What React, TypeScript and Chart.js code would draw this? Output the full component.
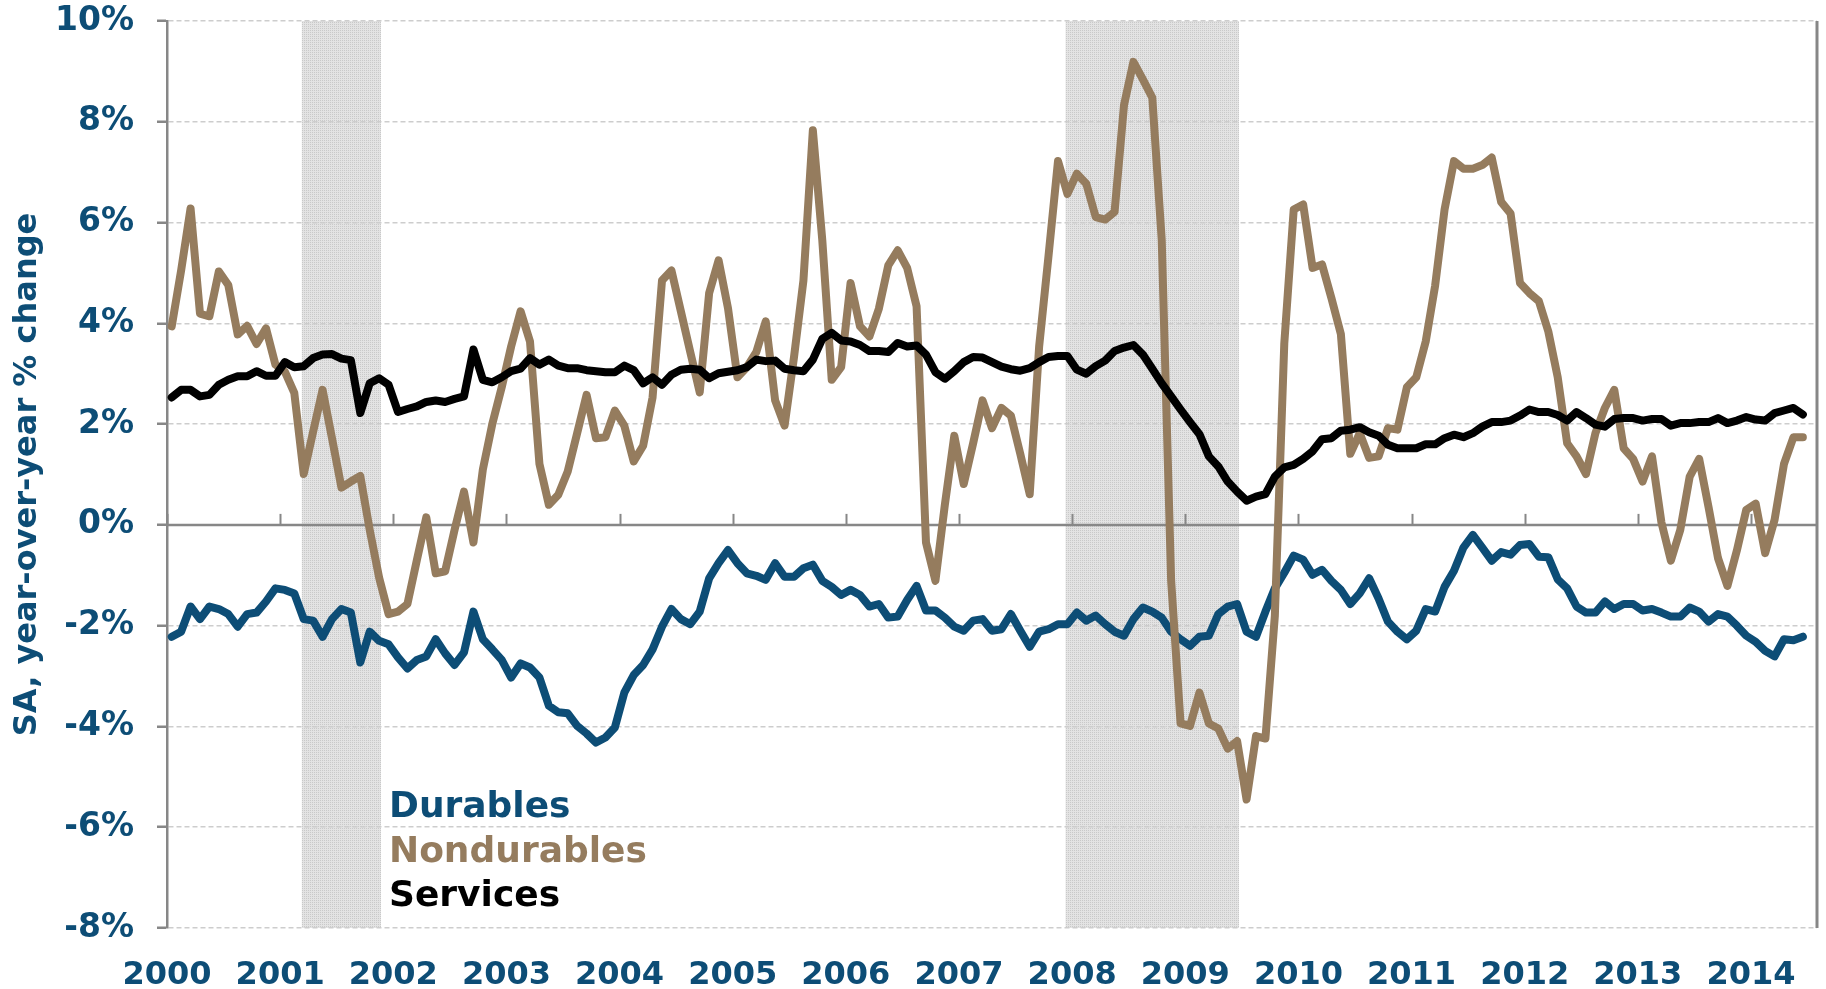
import React, { useEffect, useRef } from 'react';
import { Chart, registerables } from 'chart.js';

Chart.register(...registerables);

// ---------- DATA ----------
// Monthly observations, Jan 2000 (index 0) .. Jun 2014 (index 173)
const yearLabels = ['2000', '2001', '2002', '2003', '2004', '2005', '2006', '2007', '2008', '2009', '2010', '2011', '2012', '2013', '2014'];
const yTickValues = [-8, -6, -4, -2, 0, 2, 4, 6, 8, 10];

const durables = [
  -2.22, -2.12, -1.62, -1.87, -1.62, -1.67, -1.77, -2.02, -1.77, -1.74, -1.52, -1.26,
  -1.29, -1.36, -1.87, -1.90, -2.22, -1.87, -1.67, -1.74, -2.73, -2.12, -2.30, -2.37,
  -2.63, -2.85, -2.68, -2.61, -2.27, -2.55, -2.78, -2.53, -1.72, -2.27, -2.47, -2.68,
  -3.03, -2.75, -2.83, -3.03, -3.59, -3.72, -3.74, -3.99, -4.14, -4.32, -4.22, -4.02,
  -3.33, -2.98, -2.78, -2.47, -2.02, -1.67, -1.87, -1.97, -1.72, -1.06, -0.76, -0.50,
  -0.76, -0.96, -1.01, -1.09, -0.76, -1.03, -1.03, -0.86, -0.79, -1.11, -1.23, -1.39,
  -1.29, -1.39, -1.62, -1.57, -1.84, -1.82, -1.49, -1.21, -1.70, -1.70, -1.84, -2.02,
  -2.10, -1.90, -1.87, -2.10, -2.07, -1.77, -2.10, -2.42, -2.12, -2.07, -1.97, -1.97,
  -1.74, -1.90, -1.80, -1.97, -2.12, -2.20, -1.87, -1.64, -1.72, -1.84, -2.12, -2.27,
  -2.40, -2.22, -2.20, -1.77, -1.62, -1.57, -2.12, -2.22, -1.72, -1.26, -0.95, -0.61,
  -0.69, -0.99, -0.89, -1.11, -1.29, -1.57, -1.36, -1.06, -1.46, -1.92, -2.12, -2.27,
  -2.10, -1.67, -1.72, -1.23, -0.91, -0.45, -0.20, -0.45, -0.71, -0.54, -0.59, -0.40,
  -0.38, -0.63, -0.64, -1.08, -1.26, -1.62, -1.74, -1.74, -1.52, -1.67, -1.57, -1.57,
  -1.70, -1.67, -1.74, -1.82, -1.82, -1.64, -1.72, -1.92, -1.77, -1.82, -2.00, -2.20,
  -2.32, -2.50, -2.61, -2.27, -2.29, -2.22,
];

const nondurables = [
  3.94, 5.05, 6.28, 4.19, 4.14, 5.03, 4.76, 3.78, 3.95, 3.59, 3.90, 3.18,
  3.04, 2.62, 1.01, 1.85, 2.68, 1.72, 0.74, 0.86, 0.97, -0.10, -1.05, -1.77,
  -1.72, -1.57, -0.70, 0.15, -0.96, -0.92, -0.10, 0.66, -0.35, 1.10, 2.00, 2.73,
  3.54, 4.24, 3.64, 1.21, 0.40, 0.60, 1.06, 1.82, 2.58, 1.72, 1.74, 2.27,
  1.97, 1.26, 1.57, 2.53, 4.85, 5.05, 4.24, 3.43, 2.63, 4.60, 5.25, 4.30,
  2.93, 3.13, 3.43, 4.04, 2.47, 1.97, 3.33, 4.85, 7.83, 5.65, 2.88, 3.13,
  4.80, 3.94, 3.74, 4.29, 5.15, 5.45, 5.10, 4.34, -0.35, -1.11, 0.40, 1.77,
  0.81, 1.62, 2.47, 1.92, 2.32, 2.17, 1.41, 0.61, 3.54, 5.35, 7.22, 6.57,
  6.97, 6.77, 6.11, 6.06, 6.21, 8.33, 9.19, 8.84, 8.48, 5.66, -1.11, -3.94,
  -3.99, -3.33, -3.94, -4.04, -4.44, -4.29, -5.45, -4.19, -4.24, -1.80, 3.60, 6.26,
  6.36, 5.10, 5.17, 4.50, 3.79, 1.41, 1.82, 1.33, 1.36, 1.92, 1.89, 2.73,
  2.93, 3.64, 4.75, 6.26, 7.22, 7.07, 7.07, 7.14, 7.29, 6.41, 6.18, 4.80,
  4.60, 4.44, 3.84, 2.93, 1.62, 1.36, 1.01, 1.82, 2.32, 2.68, 1.52, 1.31,
  0.86, 1.36, 0.05, -0.71, -0.10, 0.96, 1.31, 0.35, -0.66, -1.21, -0.51, 0.30,
  0.42, -0.56, 0.10, 1.21, 1.74, 1.74,
];

const services = [
  2.53, 2.68, 2.68, 2.55, 2.58, 2.78, 2.88, 2.95, 2.95, 3.05, 2.96, 2.96,
  3.23, 3.13, 3.15, 3.31, 3.38, 3.39, 3.30, 3.27, 2.22, 2.81, 2.91, 2.78,
  2.24, 2.30, 2.35, 2.44, 2.47, 2.44, 2.50, 2.55, 3.48, 2.88, 2.83, 2.93,
  3.05, 3.10, 3.31, 3.18, 3.28, 3.16, 3.11, 3.11, 3.07, 3.05, 3.03, 3.03,
  3.16, 3.07, 2.81, 2.93, 2.78, 2.98, 3.08, 3.10, 3.08, 2.91, 3.01, 3.04,
  3.07, 3.13, 3.28, 3.25, 3.26, 3.10, 3.07, 3.05, 3.28, 3.69, 3.81, 3.66,
  3.64, 3.57, 3.45, 3.45, 3.43, 3.61, 3.54, 3.56, 3.38, 3.03, 2.90, 3.05,
  3.23, 3.33, 3.32, 3.23, 3.14, 3.09, 3.06, 3.11, 3.23, 3.33, 3.35, 3.35,
  3.08, 3.00, 3.15, 3.26, 3.45, 3.52, 3.57, 3.38, 3.10, 2.81, 2.55, 2.29,
  2.04, 1.80, 1.36, 1.16, 0.86, 0.66, 0.48, 0.56, 0.61, 0.96, 1.14, 1.19,
  1.31, 1.46, 1.70, 1.72, 1.87, 1.89, 1.94, 1.84, 1.77, 1.59, 1.52, 1.52,
  1.52, 1.60, 1.60, 1.72, 1.79, 1.74, 1.82, 1.95, 2.04, 2.04, 2.07, 2.17,
  2.29, 2.24, 2.24, 2.18, 2.07, 2.24, 2.12, 1.99, 1.95, 2.10, 2.12, 2.12,
  2.07, 2.10, 2.10, 1.97, 2.02, 2.02, 2.04, 2.04, 2.12, 2.02, 2.07, 2.14,
  2.09, 2.07, 2.22, 2.27, 2.32, 2.19,
];

// Recession periods, in months since Jan 2000
const recessionStarts = [14.3, 95.3];
const recessionEnds = [22.7, 113.7];

const seriesNames = ['Durables', 'Nondurables', 'Services'];
const seriesColors = ['#0D4D76', '#957C5E', '#000000'];

const AXIS_MONTHS = 175;
const LABEL_BLUE = '#0D4D76';
const AXIS_GRAY = '#878787';
const FONT = '"DejaVu Sans", Verdana, sans-serif';

function toPoints(values: number[]) {
  return values.map((v, i) => ({ x: i + 0.5, y: v }));
}

function makePattern(ctx: CanvasRenderingContext2D) {
  const c = document.createElement('canvas');
  c.width = 4;
  c.height = 4;
  const p = c.getContext('2d')!;
  p.fillStyle = '#e3e3e3';
  p.fillRect(0, 0, 4, 4);
  p.fillStyle = '#c9c9c9';
  p.fillRect(0, 0, 1, 1);
  p.fillRect(2, 2, 1, 1);
  p.fillRect(2, 0, 1, 1);
  p.fillRect(0, 2, 1, 1);
  return ctx.createPattern(c, 'repeat');
}

const decorPlugin = {
  id: 'decor',
  beforeDraw(chart: any) {
    const { ctx, chartArea: a, scales } = chart;
    const x = scales.x;
    ctx.save();
    ctx.fillStyle = makePattern(ctx) || '#d9d9d9';
    recessionStarts.forEach((s, k) => {
      const x1 = x.getPixelForValue(s);
      const x2 = x.getPixelForValue(recessionEnds[k]);
      ctx.fillRect(x1, a.top, x2 - x1, a.bottom - a.top);
    });
    ctx.restore();
  },
  beforeDatasetsDraw(chart: any) {
    const { ctx, chartArea: a, scales } = chart;
    const x = scales.x;
    const y = scales.y;
    const y0 = y.getPixelForValue(0);
    ctx.save();
    ctx.strokeStyle = AXIS_GRAY;
    // zero axis line
    ctx.lineWidth = 2.5;
    ctx.beginPath();
    ctx.moveTo(a.left, y0);
    ctx.lineTo(a.right, y0);
    ctx.stroke();
    // year tick marks pointing up from the zero line
    ctx.lineWidth = 2;
    yearLabels.forEach((_, k) => {
      const px = Math.round(x.getPixelForValue(k * 12)) + 0.5;
      ctx.beginPath();
      ctx.moveTo(px, y0);
      ctx.lineTo(px, y0 - 11);
      ctx.stroke();
    });
    // right border
    ctx.lineWidth = 3;
    ctx.beginPath();
    ctx.moveTo(a.right, a.top);
    ctx.lineTo(a.right, a.bottom);
    ctx.stroke();
    ctx.restore();
  },
  afterDraw(chart: any) {
    const { ctx, chartArea: a } = chart;
    ctx.save();
    ctx.font = `bold 36px ${FONT}`;
    ctx.textAlign = 'left';
    ctx.textBaseline = 'alphabetic';
    const lx = a.left + 222;
    const baselines = [817, 862, 906];
    seriesNames.forEach((name, k) => {
      ctx.fillStyle = seriesColors[k];
      ctx.fillText(name, lx, baselines[k]);
    });
    ctx.restore();
  },
};

export default function App() {
  const canvasRef = useRef<HTMLCanvasElement | null>(null);

  useEffect(() => {
    if (!canvasRef.current) return;
    const datasets = [durables, nondurables, services].map((vals, k) => ({
      label: seriesNames[k],
      data: toPoints(vals),
      borderColor: seriesColors[k],
      backgroundColor: seriesColors[k],
      borderWidth: 8,
      pointRadius: 0,
      tension: 0,
      fill: false,
      borderJoinStyle: 'round' as const,
      borderCapStyle: 'round' as const,
      order: k === 2 ? 0 : k === 1 ? 1 : 2,
    }));

    const chart = new Chart(canvasRef.current, {
      type: 'line',
      data: { datasets },
      plugins: [decorPlugin],
      options: {
        animation: false,
        responsive: true,
        maintainAspectRatio: false,
        devicePixelRatio: 1,
        layout: { padding: { top: 21, right: 9, bottom: 0, left: 0 } },
        plugins: {
          legend: { display: false },
          tooltip: { enabled: false },
        },
        scales: {
          x: {
            type: 'linear',
            min: 0,
            max: AXIS_MONTHS,
            afterBuildTicks: (s: any) => {
              s.ticks = yearLabels.map((_, k) => ({ value: k * 12 }));
            },
            ticks: {
              autoSkip: false,
              maxRotation: 0,
              padding: 28,
              color: LABEL_BLUE,
              font: { family: FONT, size: 32, weight: 'bold' },
              callback: (v: any) => yearLabels[Math.round(Number(v) / 12)],
            },
            grid: { display: false, drawTicks: false },
            border: { display: false },
            afterFit: (s: any) => {
              s.height = 61;
              s.paddingLeft = 0;
              s.paddingRight = 0;
            },
          },
          y: {
            type: 'linear',
            min: -8,
            max: 10,
            afterBuildTicks: (s: any) => {
              s.ticks = yTickValues.map((v) => ({ value: v }));
            },
            ticks: {
              padding: 23,
              color: LABEL_BLUE,
              font: { family: FONT, size: 33, weight: 'bold' },
              callback: (v: any) => `${v}%`,
            },
            grid: {
              color: (c: any) => (c.tick && c.tick.value === 0 ? 'rgba(0,0,0,0)' : '#cdcdcd'),
              lineWidth: 1.5,
              tickLength: 10,
              tickColor: AXIS_GRAY,
              tickWidth: 2.5,
            },
            border: { display: true, color: AXIS_GRAY, width: 2.5, dash: [5, 3] },
            title: {
              display: true,
              text: 'SA, year-over-year % change',
              color: LABEL_BLUE,
              font: { family: FONT, size: 32, weight: 'bold' },
              padding: { top: 8, bottom: 0 },
            },
            afterFit: (s: any) => {
              s.width = 167;
              s.paddingTop = 0;
              s.paddingBottom = 0;
            },
          },
        },
      },
    });
    return () => chart.destroy();
  }, []);

  return (
    <div style={{ position: 'fixed', left: 0, top: 0, width: 1826, height: 989, background: '#ffffff' }}>
      <canvas ref={canvasRef} />
    </div>
  );
}
